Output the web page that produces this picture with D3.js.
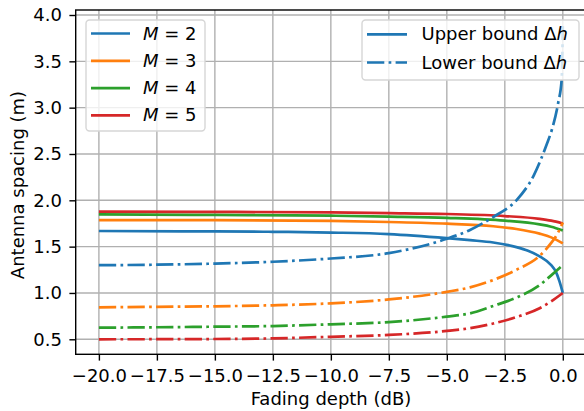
<!DOCTYPE html>
<html>
<head>
<meta charset="utf-8">
<script src="https://cdn.jsdelivr.net/npm/d3@7"></script>
<style>
  body { margin: 0; background: #fff; }
  text { font-family: "DejaVu Sans", sans-serif; fill: #000; }
</style>
</head>
<body>
<div id="chart"></div>
<script>
// values: [fading depth dB, spacing m]
const upperM2 = [[-20, 1.669], [-15, 1.664], [-12.5, 1.66], [-10, 1.652], [-7.5, 1.636], [-5, 1.592], [-4, 1.57], [-3, 1.545], [-2, 1.495], [-1.5, 1.455], [-1, 1.395], [-0.5, 1.3], [-0.3, 1.23], [-0.15, 1.13], [0, 1.0]];
const upperM3 = [[-20, 1.787], [-15, 1.787], [-10, 1.778], [-7.5, 1.766], [-5, 1.748], [-3, 1.72], [-2, 1.69], [-1, 1.64], [-0.5, 1.6], [0, 1.535]];
const upperM4 = [[-20, 1.848], [-15, 1.842], [-10, 1.834], [-7.5, 1.824], [-5, 1.81], [-2.5, 1.78], [-1, 1.74], [-0.5, 1.715], [0, 1.675]];
const upperM5 = [[-20, 1.877], [-15, 1.875], [-10, 1.87], [-7.5, 1.862], [-5, 1.852], [-2.5, 1.83], [-1, 1.8], [-0.5, 1.78], [0, 1.75]];

const lowerM2 = [[-20, 1.3], [-17.5, 1.305], [-15, 1.317], [-12.5, 1.337], [-10, 1.372], [-7.5, 1.43], [-5, 1.585], [-4, 1.68], [-3, 1.82], [-2, 2.0], [-1.25, 2.27], [-0.7, 2.6], [-0.45, 2.78], [-0.2, 3.05], [-0.05, 3.3], [0, 3.88]];
const lowerM3 = [[-20, 0.845], [-17.5, 0.85], [-15, 0.856], [-12.5, 0.867], [-10, 0.888], [-7.5, 0.93], [-5, 1.012], [-4, 1.06], [-3, 1.14], [-2, 1.25], [-1, 1.4], [-0.5, 1.54], [-0.25, 1.63], [0, 1.76]];
const lowerM4 = [[-20, 0.625], [-15, 0.636], [-12.5, 0.643], [-10, 0.662], [-7.5, 0.685], [-5, 0.745], [-4, 0.78], [-3, 0.86], [-2, 0.95], [-1, 1.085], [-0.5, 1.19], [0, 1.3]];
const lowerM5 = [[-20, 0.5], [-15, 0.503], [-12.5, 0.51], [-10, 0.527], [-7.5, 0.547], [-5, 0.59], [-4, 0.62], [-3, 0.67], [-2, 0.74], [-1, 0.835], [-0.5, 0.91], [0, 1.0]];

const mLabels = ['2', '3', '4', '5'];
const colors = ['#1f77b4', '#ff7f0e', '#2ca02c', '#d62728'];
const xTicks = [-20, -17.5, -15, -12.5, -10, -7.5, -5, -2.5, 0];
const yTicks = [0.5, 1.0, 1.5, 2.0, 2.5, 3.0, 3.5, 4.0];

const W = 584, H = 411;
const pLeft = 75.7, pRight = 586, pTop = 10, pBottom = 354.3;
const fs = '18px';
const lw = 2.7;
const dashdot = '17.3,4.3,2.7,4.3';

const svg = d3.select('#chart').append('svg')
  .attr('width', W).attr('height', H);

const x = d3.scaleLinear().domain([-21, 1]).range([pLeft, pRight]);
const y = d3.scaleLinear().domain([0.338, 4.054]).range([pBottom, pTop]);

const fmt = d => (d < 0 ? '\u2212' : '') + Math.abs(d).toFixed(1);

// grid
svg.append('g').selectAll('line').data(xTicks).enter().append('line')
  .attr('x1', d => x(d)).attr('x2', d => x(d))
  .attr('y1', pTop).attr('y2', pBottom)
  .attr('stroke', '#b0b0b0').attr('stroke-width', 1.4);
svg.append('g').selectAll('line').data(yTicks).enter().append('line')
  .attr('x1', pLeft).attr('x2', pRight)
  .attr('y1', d => y(d)).attr('y2', d => y(d))
  .attr('stroke', '#b0b0b0').attr('stroke-width', 1.4);

// axes
const xAxis = d3.axisBottom(x).tickValues(xTicks).tickFormat(fmt).tickSize(6.3).tickPadding(8.5);
const gx = svg.append('g').attr('transform', `translate(0,${pBottom})`).call(xAxis);
const yAxis = d3.axisLeft(y).tickValues(yTicks).tickFormat(d => d.toFixed(1)).tickSize(6.3).tickPadding(7.4);
const gy = svg.append('g').attr('transform', `translate(${pLeft},0)`).call(yAxis);
[gx, gy].forEach(g => {
  g.select('.domain').remove();
  g.selectAll('.tick line').attr('stroke', '#000').attr('stroke-width', 1.4);
  g.selectAll('.tick text').style('font-size', fs).attr('fill', '#000')
    .style('font-family', '"DejaVu Sans", sans-serif');
});

// series
const line = d3.line().x(d => x(d[0])).y(d => y(d[1])).curve(d3.curveMonotoneX);
const plot = svg.append('g');
const uppers = [upperM2, upperM3, upperM4, upperM5];
const lowers = [lowerM2, lowerM3, lowerM4, lowerM5];
uppers.forEach((s, i) => {
  plot.append('path').datum(s).attr('d', line)
    .attr('fill', 'none').attr('stroke', colors[i]).attr('stroke-width', lw);
});
lowers.forEach((s, i) => {
  plot.append('path').datum(s).attr('d', line)
    .attr('fill', 'none').attr('stroke', colors[i]).attr('stroke-width', lw)
    .attr('stroke-dasharray', dashdot);
});

// spines
svg.append('rect').attr('x', pLeft).attr('y', pTop)
  .attr('width', pRight - pLeft).attr('height', pBottom - pTop)
  .attr('fill', 'none').attr('stroke', '#000').attr('stroke-width', 1.4);

// axis labels
svg.append('text').attr('x', 331).attr('y', 405)
  .attr('text-anchor', 'middle').style('font-size', fs).text('Fading depth (dB)');
svg.append('text').attr('transform', 'translate(24,185) rotate(-90)')
  .attr('text-anchor', 'middle').style('font-size', fs).text('Antenna spacing (m)');

// legend 1: M values
const leg1 = svg.append('g');
leg1.append('rect').attr('x', 86).attr('y', 20).attr('width', 119).attr('height', 111).attr('rx', 3.5)
  .attr('fill', 'rgba(255,255,255,0.8)').attr('stroke', '#d6d6d6').attr('stroke-width', 1.4);
mLabels.forEach((m, i) => {
  const yy = 33.5 + i * 27.3;
  leg1.append('line').attr('x1', 91).attr('x2', 130).attr('y1', yy).attr('y2', yy)
    .attr('stroke', colors[i]).attr('stroke-width', lw);
  const t = leg1.append('text').attr('x', 143).attr('y', yy + 6).style('font-size', fs);
  t.append('tspan').style('font-style', 'italic').text('M');
  t.append('tspan').text(' = ' + m);
});

// legend 2: bounds
const leg2 = svg.append('g');
leg2.append('rect').attr('x', 362).attr('y', 20).attr('width', 217).attr('height', 60).attr('rx', 3.5)
  .attr('fill', 'rgba(255,255,255,0.8)').attr('stroke', '#d6d6d6').attr('stroke-width', 1.4);
['Upper bound ', 'Lower bound '].forEach((lab, i) => {
  const yy = 34.3 + i * 28.2;
  leg2.append('line').attr('x1', 367).attr('x2', 407).attr('y1', yy).attr('y2', yy)
    .attr('stroke', colors[0]).attr('stroke-width', lw)
    .attr('stroke-dasharray', i === 1 ? dashdot : null);
  const t = leg2.append('text').attr('x', 421.5).attr('y', yy + 6).style('font-size', fs);
  t.append('tspan').text(lab + '\u0394');
  t.append('tspan').style('font-style', 'italic').text('h');
});
</script>
</body>
</html>
